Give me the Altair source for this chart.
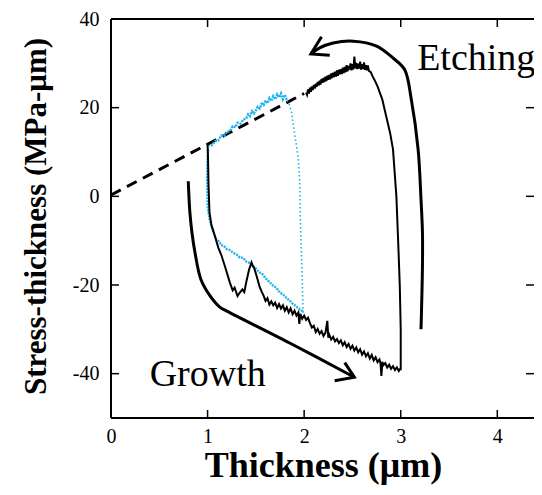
import altair as alt
import pandas as pd

# Black curve: growth (1 -> 3 um) then etching (3 -> 2 um), incl. visible noise
black_x = [1.00, 1.005, 1.01, 1.02, 1.04, 1.075, 1.11, 1.145, 1.19, 1.23, 1.26, 1.28, 1.31, 1.334, 1.36,
           1.38, 1.40, 1.43, 1.455, 1.47, 1.48, 1.507, 1.54, 1.56,
           1.58, 1.60, 1.62, 1.64, 1.66, 1.68, 1.70, 1.72, 1.74, 1.76, 1.78, 1.80, 1.82, 1.84, 1.86, 1.88,
           1.90, 1.92, 1.94, 1.95, 1.96, 1.98, 2.00, 2.02, 2.04, 2.06, 2.08, 2.10, 2.12, 2.14, 2.16, 2.18,
           2.20, 2.22, 2.24, 2.25, 2.26, 2.28, 2.30, 2.32, 2.34, 2.36, 2.38, 2.40, 2.42, 2.44, 2.46, 2.48,
           2.50, 2.52, 2.54, 2.56, 2.58, 2.60, 2.62, 2.64, 2.66, 2.68, 2.70, 2.72, 2.74, 2.76, 2.78, 2.79,
           2.80, 2.81, 2.82, 2.84, 2.86, 2.88, 2.90, 2.92, 2.94, 2.96, 2.98, 2.99,
           3.0, 3.0, 2.99, 2.98, 2.97, 2.955, 2.92, 2.89, 2.85, 2.81, 2.79, 2.76, 2.73, 2.71, 2.69, 2.67,
           2.66, 2.65, 2.64, 2.63, 2.62, 2.61, 2.60, 2.59, 2.58, 2.57, 2.56, 2.55, 2.54, 2.53, 2.52, 2.51,
           2.50, 2.49, 2.48, 2.47, 2.46, 2.45, 2.44, 2.43, 2.42, 2.41, 2.40, 2.39, 2.38, 2.37, 2.36, 2.35,
           2.34, 2.33, 2.32, 2.31, 2.30, 2.29, 2.28, 2.27, 2.26, 2.25, 2.24, 2.23, 2.22, 2.21, 2.20, 2.19,
           2.18, 2.17, 2.16, 2.15, 2.14, 2.13, 2.12, 2.11, 2.10, 2.09, 2.08, 2.07, 2.06, 2.05, 2.04, 2.03,
           2.02]
black_y = [12.0, 8.0, 2.3, -3.7, -6.5, -8.9, -11.5, -13.4, -16.5, -19.4, -21.2, -20.6, -22.5, -21.7, -21.0,
           -21.6, -19.4, -16.5, -14.9, -15.8, -16.0, -17.9, -20.5, -21.5,
           -22.4, -23.6, -23.0, -24.4, -23.7, -24.6, -24.0, -25.2, -24.3, -25.3, -24.6, -25.8, -25.0, -26.2,
           -25.3, -26.6, -25.8, -26.9, -26.2, -28.8, -26.5, -27.6, -26.9, -27.9, -27.4, -28.6, -29.6, -29.2,
           -30.6, -29.9, -31.0, -30.4, -31.5, -30.8, -28.1, -31.9, -31.2, -32.3, -31.7, -32.7, -32.2, -33.1,
           -32.5, -33.6, -32.9, -34.0, -33.3, -34.4, -33.7, -34.8, -34.1, -35.2, -34.5, -35.7, -35.0, -36.1,
           -35.4, -36.6, -35.8, -37.0, -36.3, -37.4, -36.8, -37.6, -40.5, -37.3, -38.1, -37.6, -38.6, -38.0,
           -38.9, -38.3, -39.2, -38.6, -39.4, -39.0,
           -39.0, -30.0, -20.0, -14.0, -8.2, 0.0, 10.6, 14.3, 18.0, 21.8, 23.0, 24.8, 26.2, 27.0, 28.0, 28.3,
           29.5, 28.4, 29.6, 28.5, 30.2, 28.7, 29.8, 28.6, 30.4, 28.8, 29.9, 28.7, 30.1, 28.9, 31.5, 28.6,
           29.8, 28.4, 30.0, 28.6, 29.4, 28.2, 29.6, 28.0, 29.2, 27.8, 29.0, 27.6, 28.7, 27.5, 28.6, 27.2,
           28.4, 27.0, 28.1, 26.9, 27.9, 26.7, 27.7, 26.4, 27.4, 26.3, 27.2, 26.0, 27.0, 25.8, 26.7, 25.6,
           26.5, 25.2, 26.1, 25.0, 25.8, 24.7, 25.4, 24.3, 25.1, 24.0, 24.8, 23.6, 24.5, 23.2, 24.1, 22.9,
           23.4]

# Cyan curve: growth (1 -> 2 um), then etching: steep fall near 2 um and noisy plateau back to 1 um
cyan_grow_x = [1.006, 0.998, 0.996, 1.0, 1.02, 1.04, 1.07, 1.09, 1.12, 1.14, 1.17, 1.2, 1.23, 1.27, 1.30,
               1.334, 1.37, 1.40, 1.43, 1.47, 1.50, 1.54, 1.57, 1.61, 1.64, 1.68, 1.71, 1.75, 1.78, 1.82,
               1.85, 1.885, 1.91, 1.94, 1.97, 1.99]
cyan_grow_y = [10.6, 7.0, 3.8, -2.2, -5.0, -6.7, -8.6, -9.7, -10.2, -11.0, -11.2, -11.9, -12.1, -12.8, -13.1,
               -13.8, -13.9, -14.7, -15.0, -15.7, -16.3, -17.2, -17.6, -18.7, -19.3, -20.2, -20.6, -21.7,
               -22.1, -23.0, -23.5, -24.3, -24.7, -25.3, -25.6, -26.2]
cyan_fall_x = [1.99, 1.985, 1.98, 1.97, 1.96, 1.955, 1.94, 1.92, 1.90, 1.87, 1.845, 1.82]
cyan_fall_y = [-26.2, -23.2, -18.0, -12.0, -5.0, 3.1, 8.3, 11.5, 14.3, 18.9, 20.8, 21.8]
cyan_top_x = [1.82, 1.80, 1.78, 1.76, 1.74, 1.72, 1.70, 1.68, 1.66, 1.64, 1.62, 1.60, 1.58, 1.56, 1.54,
              1.52, 1.507, 1.48, 1.46, 1.44, 1.42, 1.40, 1.37, 1.34, 1.31, 1.29, 1.26, 1.23, 1.2, 1.17,
              1.14, 1.11, 1.08, 1.05, 1.02]
cyan_top_y = [21.8, 22.9, 21.9, 23.2, 22.3, 23.0, 21.9, 22.6, 21.5, 22.2, 21.0, 21.6, 20.6, 20.9, 19.8,
              20.2, 19.6, 18.7, 19.2, 18.1, 18.5, 17.6, 17.3, 16.4, 16.6, 15.6, 15.8, 14.7, 14.6, 13.6,
              13.7, 12.6, 12.5, 11.6, 11.3]

# Dashed reference line
dash_x = [0.0, 2.0]
dash_y = [0.3, 23.2]

# Growth arrow
grow_arrow_x = [0.80, 0.817, 0.84, 0.869, 0.93, 1.024, 1.127, 1.2, 1.86, 2.52]
grow_arrow_y = [3.4, -3.7, -8.5, -12.6, -18.7, -22.4, -25.0, -25.9, -33.2, -40.8]
grow_head_x = [2.42, 2.52, 2.316]
grow_head_y = [-37.5, -40.8, -41.6]

# Etching arrow
etch_arrow_x = [3.21, 3.225, 3.225, 3.21, 3.18, 3.11, 3.04, 2.92, 2.75, 2.51, 2.30, 2.16, 2.07]
etch_arrow_y = [-30.0, -15.7, -8.2, -0.7, 10.6, 21.8, 28.6, 31.2, 33.9, 35.0, 34.6, 33.5, 32.1]
etch_head_x = [2.18, 2.07, 2.265]
etch_head_y = [36.0, 32.1, 31.8]

labels_text = ["Etching", "Growth"]
labels_x = [3.17, 0.40]
labels_y = [28.4, -42.8]

x_ticks = [0, 1, 2, 3, 4]
y_ticks = [-40, -20, 0, 20, 40]

W, H = 423, 399
SERIF = "Liberation Serif"
CYAN = "#20b2ec"
xs = alt.Scale(domain=[0, 4.38], nice=False, zero=False)
ys = alt.Scale(domain=[-50, 40], nice=False, zero=False)

xaxis = alt.Axis(values=x_ticks, ticks=False, domain=False, grid=False, labelFont=SERIF,
                 labelFontSize=20, labelColor="black", labelPadding=8, labelFlush=False,
                 labelExpr="'' + datum.value",
                 title="Thickness (μm)", titleFont=SERIF, titleFontSize=36, titleFontWeight="bold",
                 titleColor="black", titleX=212, titleY=58, titleBaseline="alphabetic", titleAlign="center")
yaxis = alt.Axis(values=y_ticks, ticks=False, domain=False, grid=False, labelFont=SERIF,
                 labelFontSize=20, labelColor="black", labelPadding=12, labelFlush=False,
                 labelExpr="'' + datum.value",
                 title="Stress-thickness (MPa-μm)", titleFont=SERIF, titleFontSize=31,
                 titleFontWeight="bold", titleColor="black", titleX=-66, titleY=197,
                 titleBaseline="alphabetic", titleAlign="center")


def enc_x():
    return alt.X("x:Q", scale=xs, axis=xaxis)


def enc_y():
    return alt.Y("y:Q", scale=ys, axis=yaxis)


def line_df(xv, yv, seg="a"):
    return pd.DataFrame({"x": xv, "y": yv, "o": list(range(len(xv))), "seg": seg})


black = alt.Chart(line_df(black_x, black_y)).mark_line(color="black", strokeWidth=2).encode(
    x=enc_x(), y=enc_y(), order="o:Q")

cyan_dense = alt.Chart(pd.concat([line_df(cyan_grow_x, cyan_grow_y, "g"),
                                  line_df(cyan_top_x, cyan_top_y, "t")])).mark_line(
    color=CYAN, strokeWidth=2.4, strokeDash=[2, 1]).encode(
    x=enc_x(), y=enc_y(), order="o:Q", detail="seg:N")
cyan_fall = alt.Chart(line_df(cyan_fall_x, cyan_fall_y, "f")).mark_line(
    color=CYAN, strokeWidth=1.6, strokeDash=[1.5, 2.5]).encode(x=enc_x(), y=enc_y(), order="o:Q")

dashed = alt.Chart(line_df(dash_x, dash_y)).mark_line(
    color="black", strokeWidth=3, strokeDash=[11, 7]).encode(x=enc_x(), y=enc_y(), order="o:Q")

arrows = alt.Chart(pd.concat([line_df(grow_arrow_x, grow_arrow_y, "g"),
                              line_df(etch_arrow_x, etch_arrow_y, "e")])).mark_line(
    color="black", strokeWidth=3, interpolate="catmull-rom").encode(
    x=enc_x(), y=enc_y(), order="o:Q", detail="seg:N")
heads = alt.Chart(pd.concat([line_df(grow_head_x, grow_head_y, "g"),
                             line_df(etch_head_x, etch_head_y, "e")])).mark_line(
    color="black", strokeWidth=3, strokeJoin="miter").encode(
    x=enc_x(), y=enc_y(), order="o:Q", detail="seg:N")

labels = alt.Chart(pd.DataFrame({"x": labels_x, "y": labels_y, "t": labels_text})).mark_text(
    font=SERIF, fontSize=38, align="left", baseline="alphabetic", color="black").encode(
    x=enc_x(), y=enc_y(), text="t:N")

# frame (left, top, bottom; the right side lies at the page edge) and inward ticks
frame_left = alt.Chart(pd.DataFrame({"x": [0]})).mark_rule(color="black", strokeWidth=2).encode(
    x=enc_x(), y=alt.value(0), y2=alt.value(H))
frame_top = alt.Chart(pd.DataFrame({"y": [40]})).mark_rule(color="black", strokeWidth=2).encode(
    y=enc_y(), x=alt.value(0), x2=alt.value(W))
frame_bottom = alt.Chart(pd.DataFrame({"y": [-50]})).mark_rule(color="black", strokeWidth=2).encode(
    y=enc_y(), x=alt.value(0), x2=alt.value(W))

tx = pd.DataFrame({"x": x_ticks[1:]})
ty = pd.DataFrame({"y": y_ticks[:-1]})
tick_bottom = alt.Chart(tx).mark_rule(color="black", strokeWidth=1.5).encode(
    x=enc_x(), y=alt.value(H - 8), y2=alt.value(H))
tick_top = alt.Chart(tx).mark_rule(color="black", strokeWidth=1.5).encode(
    x=enc_x(), y=alt.value(0), y2=alt.value(8))
tick_left = alt.Chart(ty).mark_rule(color="black", strokeWidth=1.5).encode(
    y=enc_y(), x=alt.value(0), x2=alt.value(8))
tick_right = alt.Chart(ty).mark_rule(color="black", strokeWidth=1.5).encode(
    y=enc_y(), x=alt.value(W - 8), x2=alt.value(W))

chart = alt.layer(
    frame_left, frame_top, frame_bottom, tick_bottom, tick_top, tick_left, tick_right,
    dashed, cyan_dense, cyan_fall, black, arrows, heads, labels
).properties(
    width=W, height=H,
    padding={"left": 103, "top": 11, "right": 0, "bottom": 67},
    autosize=alt.AutoSizeParams(type="none"),
    background="white",
).configure_view(strokeWidth=0)

chart.save("out.html", embed_options={"renderer": "svg", "actions": False})
